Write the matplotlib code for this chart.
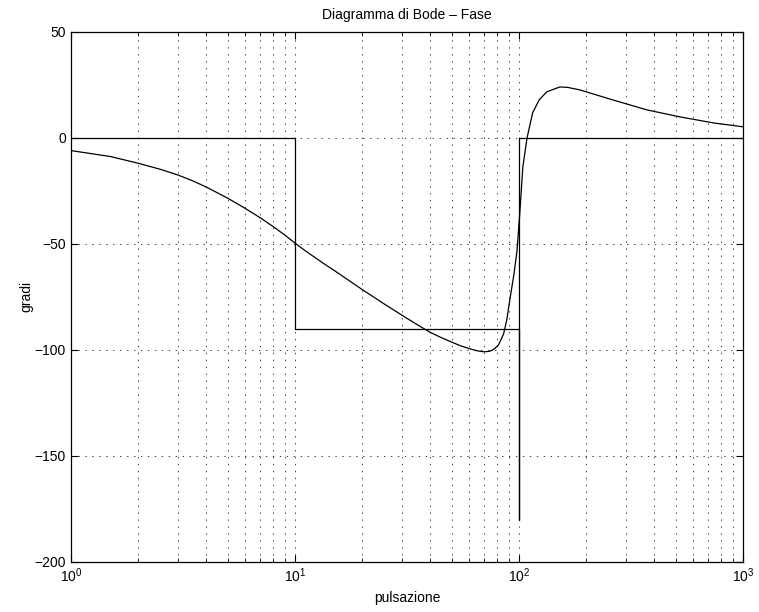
import matplotlib.pyplot as plt
from matplotlib.ticker import LogLocator, NullFormatter, FixedLocator

plt.rcParams["font.family"] = ["Liberation Sans", "DejaVu Sans"]
plt.rcParams["lines.scale_dashes"] = False

# fase reale
w_fase = [1, 1.5, 2, 2.5, 3, 3.5, 4, 5, 6, 7, 8, 9, 10, 11, 13.4, 15, 20, 25,
          30, 32.6, 36.7, 40.3, 45, 50, 55, 60, 65, 70, 74, 77, 81, 85.3,
          88.2, 91, 95, 98, 101, 104, 108.6, 115, 123, 133, 152, 165, 187,
          262, 372, 522, 733, 1000]
fase = [-6.0, -8.8, -12.0, -14.8, -17.5, -20.3, -23.1, -28.4, -33.3, -37.7,
        -41.9, -45.8, -49.6, -52.9, -59.2, -62.6, -71.6, -78.3, -83.6, -86.0,
        -89.3, -91.8, -94.2, -96.3, -98.1, -99.4, -100.4, -100.9, -100.6,
        -99.8, -97.6, -92.5, -85.7, -76.3, -64.0, -53.0, -34.0, -13.7, 0.0,
        11.8, 17.9, 21.7, 24.0, 23.8, 22.6, 17.9, 13.2, 9.9, 7.1, 5.2]

# diagramma asintotico
w_asint = [1, 10, 10, 100, 100, 100, 1000]
fase_asint = [0, 0, -90, -90, -180, 0, 0]

fig = plt.figure(figsize=(7.59, 6.12), dpi=100)
ax = fig.add_axes([0.0935, 0.0817, 0.8855, 0.8663])

ax.semilogx(w_fase, fase, color="black", linewidth=0.9)
ax.semilogx(w_asint, fase_asint, color="black", linewidth=0.9)

ax.set_xlim(1, 1000)
ax.set_ylim(-200, 50)
ax.yaxis.set_major_locator(FixedLocator([-200, -150, -100, -50, 0, 50]))
ax.xaxis.set_major_locator(LogLocator(base=10, numticks=10))
ax.xaxis.set_minor_locator(LogLocator(base=10, subs=range(2, 10), numticks=10))
ax.xaxis.set_minor_formatter(NullFormatter())

griglia = dict(linestyle=(0, (1, 4)), color="black", linewidth=0.7, alpha=0.75)
ax.grid(True, which="major", **griglia)
ax.grid(True, which="minor", axis="x", **griglia)

ax.tick_params(which="both", direction="in", top=True, right=True, labelsize=10)
ax.tick_params(which="major", length=5)
ax.tick_params(which="minor", length=3)
for s in ax.spines.values():
    s.set_linewidth(0.9)

ax.set_title("Diagramma di Bode \u2013 Fase", fontsize=10, pad=9)
ax.set_xlabel("pulsazione", fontsize=10, labelpad=4)
ax.set_ylabel("gradi", fontsize=10, labelpad=1)

fig.savefig("out.png", dpi=100)
